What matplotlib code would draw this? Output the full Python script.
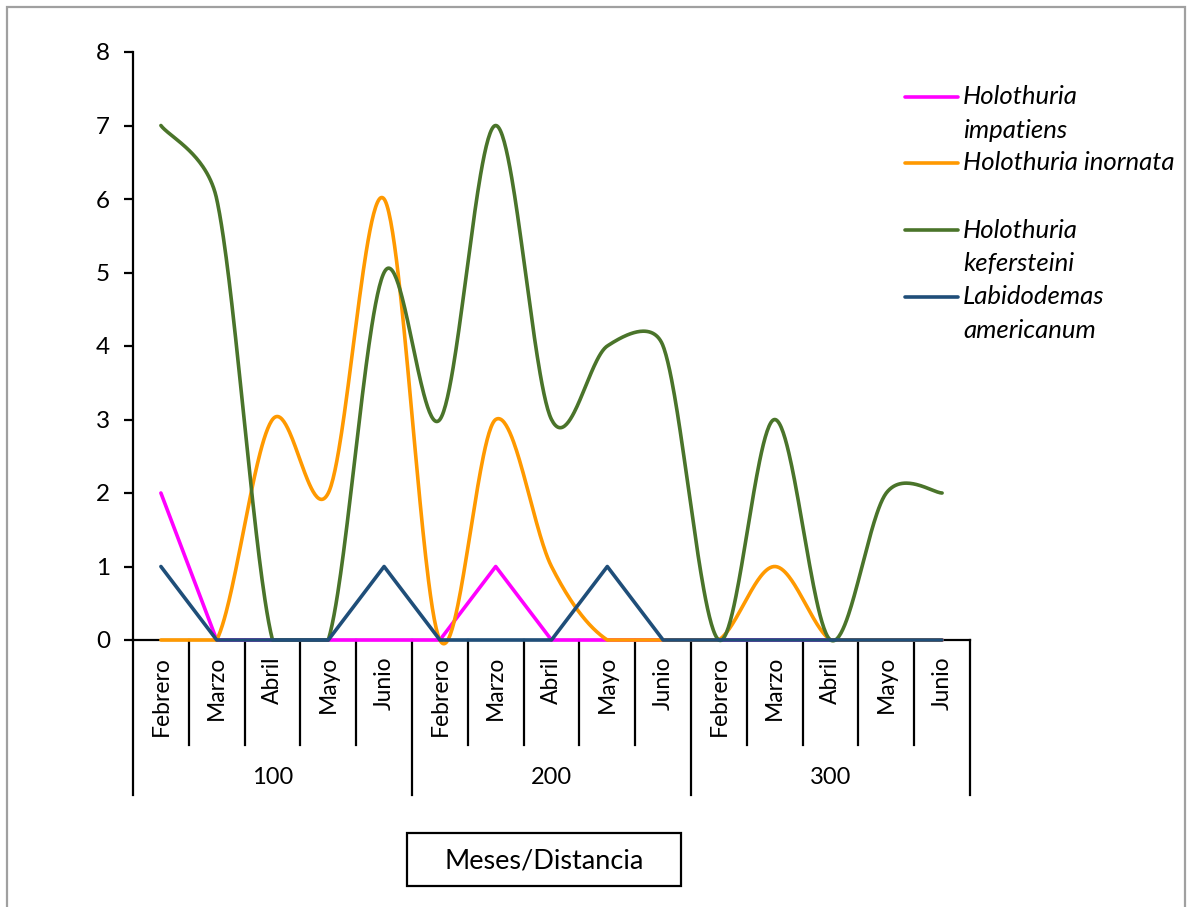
import numpy as np
import matplotlib
matplotlib.use("Agg")
import matplotlib.pyplot as plt
from matplotlib import transforms
from matplotlib.lines import Line2D
from matplotlib.patches import Rectangle

plt.rcParams['font.family'] = ['Lato', 'DejaVu Sans']

# ---- data -------------------------------------------------------------
months = ["Febrero", "Marzo", "Abril", "Mayo", "Junio"]
distances = ["100", "200", "300"]

impatiens = [2, 0, 0, 0, 0, 0, 1, 0, 0, 0, 0, 0, 0, 0, 0]
inornata = [0, 0, 3, 2, 6, 0, 3, 1, 0, 0, 0, 1, 0, 0, 0]
kefersteini = [7, 6, 0, 0, 5, 3, 7, 3, 4, 4, 0, 3, 0, 2, 2]
labidodemas = [1, 0, 0, 0, 1, 0, 0, 0, 1, 0, 0, 0, 0, 0, 0]

series_names = ["Holothuria\nimpatiens", "Holothuria inornata",
                "Holothuria\nkefersteini", "Labidodemas\namericanum"]
series_values = [impatiens, inornata, kefersteini, labidodemas]
series_colors = ["#FF00FF", "#FF9900", "#4A742A", "#1F4E79"]
series_smooth = [False, True, True, False]

y_ticks = [0, 1, 2, 3, 4, 5, 6, 7, 8]
axis_title = "Meses/Distancia"

# ---- figure -----------------------------------------------------------
W, H = 1189, 907
fig = plt.figure(figsize=(W / 100, H / 100), dpi=100)


def fx(px):
    return px / W


def fy(py):
    return 1 - py / H


L, R, T, B = 133, 970, 52, 640
ax = fig.add_axes([fx(L), fy(B), fx(R) - fx(L), fy(T) - fy(B)])

n = len(kefersteini)
ax.set_xlim(-0.5, n - 0.5)
ax.set_ylim(y_ticks[0], y_ticks[-1])
ax.set_yticks(y_ticks)
ax.set_xticks([])
for s in ("top", "right"):
    ax.spines[s].set_visible(False)
for s in ("left", "bottom"):
    ax.spines[s].set_linewidth(1.6)
    ax.spines[s].set_color("black")
ax.tick_params(axis="y", direction="out", length=6.5, width=1.6,
               labelsize=17.5, pad=10, colors="black")
ax.patch.set_alpha(0)

fig.canvas.draw()


def smooth_curve(xs, ys, floor, steps=60):
    """Bezier smoothing with tension-limited control points, done in display space.
    Runs of equal values lying on the axis floor stay straight."""
    ys = np.asarray(ys, dtype=float)
    pts = ax.transData.transform(np.column_stack([xs, ys]))
    m = len(pts)
    out = [pts[0:1]]
    for i in range(m - 1):
        p0 = pts[i - 1] if i > 0 else pts[i]
        p1 = pts[i]
        p2 = pts[i + 1]
        p3 = pts[i + 2] if i + 2 < m else pts[i + 1]
        d12 = np.hypot(*(p2 - p1))
        d02 = np.hypot(*(p2 - p0))
        d13 = np.hypot(*(p3 - p1))
        lim1 = d02 / 6 >= d12 / 2
        lim2 = d13 / 6 >= d12 / 2
        on_floor = ys[i] == ys[i + 1] == floor
        if (lim1 and lim2) or on_floor:
            b1 = p1 + (p2 - p1) / 3
            b2 = p2 - (p2 - p1) / 3
        else:
            f1 = d12 / (2 * d02) if lim1 else 1 / 6
            f2 = d12 / (2 * d13) if lim2 else 1 / 6
            b1 = p1 + (p2 - p0) * f1
            b2 = p2 - (p3 - p1) * f2
        t = np.linspace(0, 1, steps)[1:, None]
        seg = ((1 - t) ** 3) * p1 + 3 * ((1 - t) ** 2) * t * b1 \
            + 3 * (1 - t) * t ** 2 * b2 + t ** 3 * p2
        out.append(seg)
    curve = ax.transData.inverted().transform(np.vstack(out))
    return curve[:, 0], curve[:, 1]


x = np.arange(n)
for k, (vals, col, sm) in enumerate(zip(series_values, series_colors, series_smooth)):
    if sm:
        cx, cy = smooth_curve(x, vals, y_ticks[0])
    else:
        cx, cy = x, np.asarray(vals, dtype=float)
    ax.plot(cx, cy, color=col, lw=2.6, zorder=3 + k, clip_on=False,
            solid_capstyle="round", solid_joinstyle="round")

# ---- two-level category axis -----------------------------------------
plot_h = B - T
bt = transforms.blended_transform_factory(ax.transData, ax.transAxes)
per_group = len(months)
for b in range(n + 1):
    depth = 155 if b % per_group == 0 else 105
    ax.add_line(Line2D([b - 0.5, b - 0.5], [0, -depth / plot_h], transform=bt,
                       color="black", lw=1.6, clip_on=False))

for i in range(n):
    ax.text(i, -16 / plot_h, months[i % per_group], transform=bt, rotation=90,
            ha="center", va="top", fontsize=16.5, color="black")

for g, lab in enumerate(distances):
    ax.text(g * per_group + (per_group - 1) / 2, -(778 - B) / plot_h, lab,
            transform=bt, ha="center", va="center", fontsize=17, color="black")

# ---- axis title box ----------------------------------------------------
fig.add_artist(Rectangle((fx(407), fy(886)), fx(681) - fx(407), fy(833) - fy(886),
                         transform=fig.transFigure, fill=False,
                         edgecolor="black", lw=1.6))
fig.text(fx(544), fy(861), axis_title, ha="center", va="center",
         fontsize=19.5, color="black")

# ---- legend ------------------------------------------------------------
legend_rows = [97, 163, 230, 297]
line_gap = 33
for name, col, yy in zip(series_names, series_colors, legend_rows):
    fig.add_artist(Line2D([fx(905), fx(958)], [fy(yy), fy(yy)],
                          transform=fig.transFigure, color=col, lw=2.6,
                          solid_capstyle="round"))
    for j, part in enumerate(name.split("\n")):
        fig.text(fx(963), fy(yy + j * line_gap), part, ha="left", va="center",
                 fontsize=18.5, style="italic", color="black")

# ---- outer frame -------------------------------------------------------
fig.add_artist(Rectangle((fx(7), fy(920)), fx(1185) - fx(7), fy(7) - fy(920),
                         transform=fig.transFigure, fill=False,
                         edgecolor="#A0A0A0", lw=1.6))

fig.savefig("out.png", dpi=100, facecolor="white")
